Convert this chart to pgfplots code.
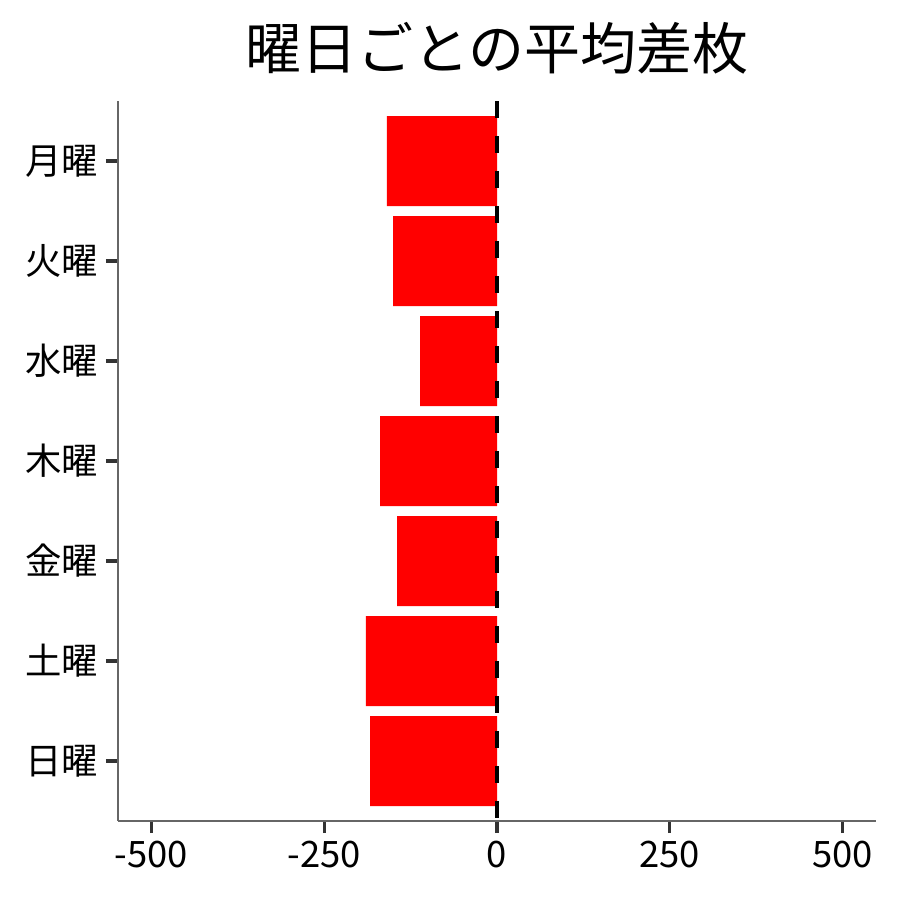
\documentclass[border=0pt]{standalone}
\usepackage{pgfplots}
\pgfplotsset{compat=1.18}
\usepackage{fontspec}
\setmainfont{Noto Sans CJK JP}
\definecolor{axgray}{HTML}{666666}
\definecolor{tkgray}{HTML}{333333}
\begin{document}
\begin{tikzpicture}[x=1pt,y=1pt]
\begin{axis}[
  at={(0,0)}, anchor=south west,
  scale only axis,
  width=379pt, height=360pt,
  xmin=-548.5, xmax=548.5,
  ymin=0.4, ymax=7.6,
  y dir=reverse,
  axis lines*=left,
  axis line style={axgray, line width=0.6pt},
  xtick={-500,-250,0,250,500},
  xticklabels={-500,-250,0,250,500},
  ytick={1,...,7},
  yticklabels={月曜,火曜,水曜,木曜,金曜,土曜,日曜},
  tick style={tkgray, line width=1.6pt},
  tick align=outside,
  major tick length=6pt,
  ticklabel style={font=\fontsize{18.2}{21}\selectfont, black},
  xticklabel style={yshift=-0.5pt},
  yticklabel style={xshift=-0.5pt},
  title={曜日ごとの平均差枚},
  title style={font=\fontsize{28}{32}\selectfont, yshift=4pt},
  clip=false,
]
\addplot[xbar, bar width=0.9, bar shift=0pt, fill=red, draw=none] coordinates {
  (-159.2,1) (-150.5,2) (-111.4,3) (-169.3,4) (-144.7,5) (-189.6,6) (-183.8,7)
};
\addplot[black, line width=2pt, dash pattern=on 8.5pt off 9pt] coordinates {(0.7,0.4) (0.7,7.6)};
\end{axis}
\path[use as bounding box] (-59,-39.5) rectangle (391,410.5);
\end{tikzpicture}
\end{document}
